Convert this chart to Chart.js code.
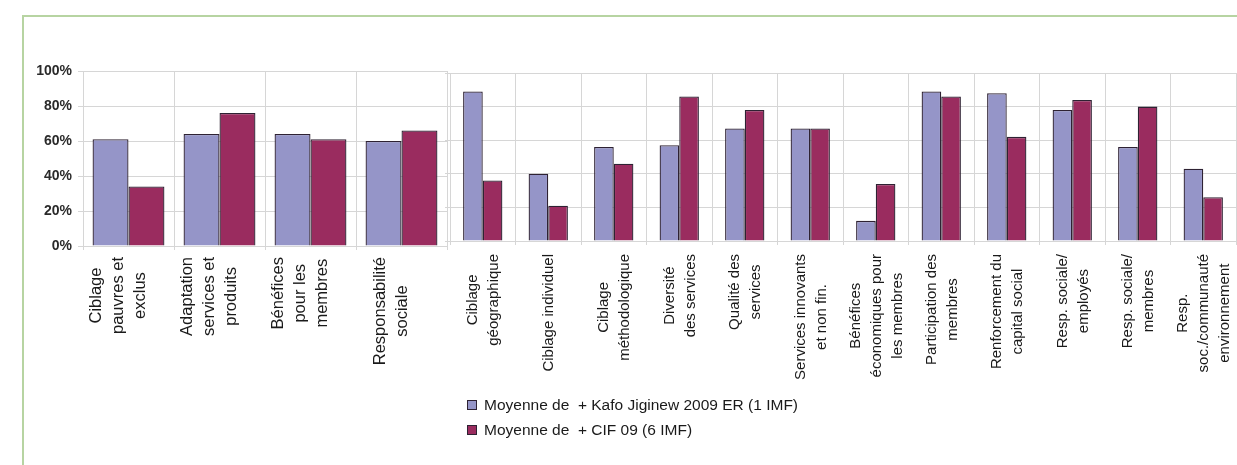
<!DOCTYPE html>
<html>
<head>
<meta charset="utf-8">
<script src="https://cdn.jsdelivr.net/npm/chart.js@4.4.1/dist/chart.umd.min.js"></script>
<style>
  html, body { margin: 0; padding: 0; background: #fff; }
  body { width: 1237px; height: 465px; position: relative; overflow: hidden; font-family: "Liberation Sans", Arial, sans-serif; }
  #frame { position: absolute; left: 22px; top: 15px; width: 1400px; height: 600px; border: 2px solid #b7d4a2; }
  #leftChart { position: absolute; left: 0; top: 0; }
  #rightChart { position: absolute; left: 440px; top: 0; }
  #legend { position: absolute; left: 467px; top: 392px; font-size: 15.5px; color: #1a1a1a; }
  .row { height: 25px; line-height: 25px; white-space: pre; }
  .box { display: inline-block; width: 8px; height: 8px; border: 1px solid #2e2233; margin-right: 7px; vertical-align: 0px; }
</style>
</head>
<body>
<div id="frame"></div>
<canvas id="leftChart" width="448" height="465"></canvas>
<canvas id="rightChart" width="797" height="465"></canvas>
<div id="legend"></div>
<script>
const seriesNames = ['Moyenne de  + Kafo Jiginew 2009 ER (1 IMF)', 'Moyenne de  + CIF 09 (6 IMF)'];
const seriesColors = ['#9595c8', '#9a2c5f'];

const leftCategories = [
    ['Ciblage', 'pauvres et', 'exclus'],
    ['Adaptation', 'services et', 'produits'],
    ['Bénéfices', 'pour les', 'membres'],
    ['Responsabilité', 'sociale']
];
const leftKafo = [61, 64, 64, 60];
const leftCif = [34, 76, 61, 66];

const rightCategories = [
    ['Ciblage', 'géographique'],
    ['Ciblage individuel'],
    ['Ciblage', 'méthodologique'],
    ['Diversité', 'des services'],
    ['Qualité des', 'services'],
    ['Services innovants', 'et non fin.'],
    ['Bénéfices', 'économiques pour', 'les membres'],
    ['Participation des', 'membres'],
    ['Renforcement du', 'capital social'],
    ['Resp. sociale/', 'employés'],
    ['Resp. sociale/', 'membres'],
    ['Resp.', 'soc./communauté', 'environnement']
];
const rightKafo = [89, 40, 56, 57, 67, 67, 12, 89, 88, 78, 56, 43];
const rightCif = [36, 21, 46, 86, 78, 67, 34, 86, 62, 84, 80, 26];

const tickLabels = ['0%', '20%', '40%', '60%', '80%', '100%'];

const gridColor = '#d6d6d6';

// rotated labels, each line centred on the longest one (like the spreadsheet does)
const centredLabels = {
    id: 'centredLabels',
    afterDraw(chart, args, opts) {
        const ctx = chart.ctx;
        const xScale = chart.scales.x;
        ctx.save();
        ctx.font = opts.font;
        ctx.fillStyle = '#1a1a1a';
        ctx.textAlign = 'center';
        ctx.textBaseline = 'middle';
        chart.data.labels.forEach((lines, i) => {
            const longest = Math.max(...lines.map(l => ctx.measureText(l).width));
            ctx.save();
            ctx.translate(xScale.getPixelForTick(i) + opts.shift, chart.chartArea.bottom + opts.pad);
            ctx.rotate(-Math.PI / 2);
            lines.forEach((line, j) => {
                ctx.fillText(line, -longest / 2, (j - (lines.length - 1) / 2) * opts.lineHeight);
            });
            ctx.restore();
        });
        ctx.restore();
    }
};

function makeChart(id, labels, kafo, cif, cfg) {
    const ctx = document.getElementById(id).getContext('2d');
    return new Chart(ctx, {
        type: 'bar',
        data: {
            labels: labels,
            datasets: [kafo, cif].map((data, k) => ({
                label: seriesNames[k],
                data: data,
                backgroundColor: seriesColors[k],
                borderColor: '#2e2233',
                borderWidth: 1.3,
                borderSkipped: 'bottom',
                categoryPercentage: cfg.catPct,
                barPercentage: 1
            }))
        },
        options: {
            responsive: false,
            animation: false,
            devicePixelRatio: 1,
            layout: { padding: { top: cfg.top, right: 1, left: 0, bottom: 0 } },
            plugins: {
                legend: { display: false },
                tooltip: { enabled: false },
                centredLabels: { font: cfg.labelFont, shift: cfg.shift, pad: cfg.pad, lineHeight: cfg.lineHeight }
            },
            scales: {
                x: {
                    grid: { color: gridColor, tickLength: 4, offset: true },
                    border: { color: gridColor },
                    ticks: { display: false },
                    afterFit: s => { s.height = 465 - cfg.bottom; }
                },
                y: {
                    min: 0,
                    max: 100,
                    grid: { color: gridColor, tickLength: 5 },
                    border: { color: gridColor },
                    ticks: {
                        display: cfg.showTicks,
                        stepSize: 20,
                        padding: 6,
                        color: '#2a2a2a',
                        font: { family: '"Liberation Sans", Arial, sans-serif', size: 14, weight: 'bold' },
                        callback: (v, i) => tickLabels[i]
                    },
                    afterFit: s => { s.width = cfg.axisWidth; }
                }
            }
        },
        plugins: [centredLabels]
    });
}

function initializeCharts() {
    makeChart('leftChart', leftCategories, leftKafo, leftCif, {
        catPct: 0.79, top: 71, bottom: 246, axisWidth: 83, showTicks: true,
        labelFont: '16.5px "Liberation Sans", Arial, sans-serif', shift: -10, pad: 11, lineHeight: 22
    });
    makeChart('rightChart', rightCategories, rightKafo, rightCif, {
        catPct: 0.6, top: 73, bottom: 241, axisWidth: 10, showTicks: false,
        labelFont: '15px "Liberation Sans", Arial, sans-serif', shift: 1, pad: 13, lineHeight: 21
    });

    const legend = document.getElementById('legend');
    seriesNames.forEach((name, k) => {
        const row = document.createElement('div');
        row.className = 'row';
        const box = document.createElement('span');
        box.className = 'box';
        box.style.background = seriesColors[k];
        row.appendChild(box);
        row.appendChild(document.createTextNode(name));
        legend.appendChild(row);
    });
}

if (document.readyState === 'loading') {
    document.addEventListener('DOMContentLoaded', initializeCharts);
} else {
    initializeCharts();
}
</script>
</body>
</html>
